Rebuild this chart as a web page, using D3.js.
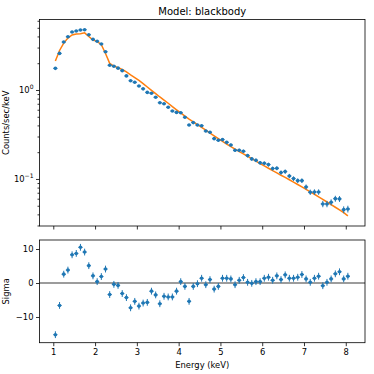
<!DOCTYPE html>
<html><head><meta charset="utf-8">
<script src="https://cdn.jsdelivr.net/npm/d3@7"></script>
<style>
html,body{margin:0;padding:0;background:#fff;}
svg text{font-family:"DejaVu Sans",sans-serif;fill:#000;}
</style></head>
<body><svg id="c" width="374" height="374"></svg>
<script>
const title = "Model: blackbody";
const xLabel = "Energy (keV)";
const yLabelTop = "Counts/sec/keV";
const yLabelRes = "Sigma";
const xTicks = [1,2,3,4,5,6,7,8];
const resTicks = [10,0,-10];
const logMajorTicks = [0.1, 1];
const logTickLabels = [["10","\u22121"],["10","0"]];
const halfWidth = 0.05;

const energy = [1.05,1.15,1.25,1.35,1.45,1.55,1.65,1.75,1.85,1.95,2.05,2.15,2.25,2.35,2.45,2.55,2.65,2.75,2.85,2.95,
3.05,3.15,3.25,3.35,3.45,3.55,3.65,3.75,3.85,3.95,4.05,4.15,4.25,4.35,4.45,4.55,4.65,4.75,4.85,4.95,
5.05,5.15,5.25,5.35,5.45,5.55,5.65,5.75,5.85,5.95,6.05,6.15,6.25,6.35,6.45,6.55,6.65,6.75,6.85,6.95,
7.05,7.15,7.25,7.35,7.45,7.55,7.65,7.75,7.85,7.95,8.05];

const counts = [1.75,2.58,3.46,3.97,4.48,4.60,4.72,4.76,4.18,3.71,3.53,3.29,2.69,1.90,1.85,1.76,1.65,1.44,1.27,1.22,
1.11,1.03,0.94,0.92,0.83,0.72,0.70,0.64,0.58,0.56,0.555,0.493,0.404,0.43,0.404,0.397,0.346,0.335,0.284,0.272,
0.277,0.258,0.241,0.21,0.21,0.205,0.183,0.168,0.162,0.152,0.150,0.145,0.131,0.132,0.118,0.121,0.108,0.101,0.0957,0.0957,
0.0813,0.071,0.0714,0.0714,0.0524,0.0524,0.0547,0.0601,0.0597,0.0452,0.046];

const countErr = [0.0246,0.0298,0.0345,0.0370,0.0393,0.0398,0.0403,0.0405,0.0380,0.0358,0.0349,0.0337,0.0305,0.0256,0.0253,0.0246,0.0239,0.0223,0.0209,0.0205,
0.0196,0.0188,0.0180,0.0178,0.0169,0.0158,0.0155,0.0149,0.0141,0.0139,0.0138,0.0130,0.0118,0.0122,0.0118,0.0117,0.0109,0.0107,0.0099,0.0097,
0.0098,0.0094,0.0091,0.0085,0.0085,0.0084,0.0079,0.0076,0.0075,0.0072,0.0072,0.0071,0.0067,0.0067,0.0064,0.0065,0.0061,0.0059,0.0057,0.0057,
0.0053,0.0049,0.0050,0.0050,0.0043,0.0043,0.0043,0.0046,0.0045,0.0040,0.0040];

const model = [2.12,2.78,3.37,3.83,4.15,4.25,4.30,4.39,3.99,3.63,3.52,3.23,2.57,1.99,1.86,1.78,1.70,1.60,1.48,1.38,
1.28,1.18,1.08,0.99,0.91,0.835,0.77,0.71,0.65,0.598,0.552,0.508,0.470,0.438,0.407,0.380,0.353,0.328,0.305,0.284,
0.265,0.247,0.231,0.216,0.203,0.191,0.180,0.169,0.159,0.149,0.140,0.132,0.124,0.117,0.110,0.104,0.0980,0.0922,0.0867,0.0814,
0.0764,0.0717,0.0673,0.0630,0.0589,0.0551,0.0515,0.0481,0.0449,0.0419,0.0385];

const sigma = [-15.2,-6.6,2.6,3.8,8.3,8.7,10.5,9.1,5.1,2.1,0.4,1.9,4.1,-3.4,-0.4,-0.7,-3.1,-4.3,-7.3,-5.4,
-6.8,-5.9,-5.7,-2.4,-3.5,-6.1,-3.9,-4.1,-4.1,-2.4,0.4,-1.0,-5.4,-1.0,-0.2,1.4,-0.5,1.0,-1.8,-1.0,
1.4,1.4,1.2,-0.5,0.8,1.6,0.2,-0.1,0.4,0.4,1.4,1.7,0.8,2.1,1.0,2.4,1.4,1.4,1.7,2.5,
1.2,0.2,1.4,2.0,-0.8,0.2,1.2,2.7,3.3,1.2,2.0];

const blue = "#1f77b4", orange = "#ff7f0e";
const svg = d3.select("#c");
const L = 39.5, R = 365;
const top1 = 19.5, bot1 = 226, top2 = 240, bot2 = 342.7;

const x = d3.scaleLinear().domain([0.67, 8.46]).range([L, R]);
const yT = d3.scaleLog().domain([0.0296, 6.2]).range([bot1, top1]);
const yR = d3.scaleLinear().domain([-17.56, 12.65]).range([bot2, top2]);

const pts = energy.map((e,i)=>({e, c:counts[i], ce:countErr[i], m:model[i], s:sigma[i]}));
const fs = 8.4;

// ---------- top panel ----------
const g1 = svg.append("g");
// x ticks (no labels)
const ax1 = g1.append("g").attr("transform",`translate(0,${bot1})`)
  .call(d3.axisBottom(x).tickValues(xTicks).tickFormat("").tickSizeOuter(0).tickSize(3.5));
ax1.select(".domain").remove();
// y log ticks
const minorVals = [];
[0.01,0.1,1].forEach(dec=>{for(let k=2;k<=9;k++){const v=dec*k; if(v>=0.0296 && v<=6.2) minorVals.push(v);}});
const ay1 = g1.append("g").attr("transform",`translate(${L},0)`)
  .call(d3.axisLeft(yT).tickValues(minorVals).tickFormat("").tickSizeOuter(0).tickSize(2));
ay1.select(".domain").remove();
const ay1b = g1.append("g").attr("transform",`translate(${L},0)`)
  .call(d3.axisLeft(yT).tickValues(logMajorTicks).tickFormat("").tickSizeOuter(0).tickSize(3.5));
ay1b.select(".domain").remove();
g1.selectAll(".tick line").attr("stroke","#000").attr("stroke-width",0.8);
logMajorTicks.forEach((v,i)=>{
  const t = g1.append("text").attr("x", L-6).attr("y", yT(v)+3.5).attr("text-anchor","end").attr("font-size",fs);
  t.append("tspan").text(logTickLabels[i][0]);
  t.append("tspan").attr("dy",-4).attr("font-size",fs*0.72).text(logTickLabels[i][1]);
});

// model line
g1.append("path").datum(pts)
  .attr("d", d3.line().x(d=>x(d.e)).y(d=>yT(d.m)))
  .attr("fill","none").attr("stroke",orange).attr("stroke-width",1.5);

// data error bars + points
const eb1 = g1.append("g").attr("stroke",blue).attr("stroke-width",1);
eb1.selectAll(".v").data(pts).join("line")
  .attr("x1",d=>x(d.e)).attr("x2",d=>x(d.e))
  .attr("y1",d=>yT(d.c-d.ce)).attr("y2",d=>yT(d.c+d.ce));
eb1.selectAll(".h").data(pts).join("line")
  .attr("x1",d=>x(d.e-halfWidth)).attr("x2",d=>x(d.e+halfWidth))
  .attr("y1",d=>yT(d.c)).attr("y2",d=>yT(d.c));
g1.append("g").selectAll("circle").data(pts).join("circle")
  .attr("cx",d=>x(d.e)).attr("cy",d=>yT(d.c)).attr("r",1.8).attr("fill",blue);

g1.append("rect").attr("x",L).attr("y",top1).attr("width",R-L).attr("height",bot1-top1)
  .attr("fill","none").attr("stroke","#000").attr("stroke-width",0.8);

svg.append("text").attr("x",(L+R)/2).attr("y",top1-5).attr("text-anchor","middle")
  .attr("font-size",10).text(title);
svg.append("text").attr("transform",`translate(9,${(top1+bot1)/2}) rotate(-90)`)
  .attr("text-anchor","middle").attr("font-size",fs).text(yLabelTop);

// ---------- residual panel ----------
const g2 = svg.append("g");
const ax2 = g2.append("g").attr("transform",`translate(0,${bot2})`)
  .call(d3.axisBottom(x).tickValues(xTicks).tickFormat(d3.format("d")).tickSizeOuter(0).tickSize(3.5));
ax2.select(".domain").remove();
ax2.selectAll("text").attr("font-size",fs).attr("font-family","DejaVu Sans").attr("dy","0.71em").attr("y",6);
const ay2 = g2.append("g").attr("transform",`translate(${L},0)`)
  .call(d3.axisLeft(yR).tickValues(resTicks).tickFormat(d=>d<0?"\u2212"+Math.abs(d):String(d)).tickSizeOuter(0).tickSize(3.5));
ay2.select(".domain").remove();
ay2.selectAll("text").attr("font-size",fs).attr("font-family","DejaVu Sans").attr("x",-6);
g2.selectAll(".tick line").attr("stroke","#000").attr("stroke-width",0.8);

g2.append("line").attr("x1",L).attr("x2",R).attr("y1",yR(0)).attr("y2",yR(0))
  .attr("stroke","#3a3a3a").attr("stroke-width",1.2);

const eb2 = g2.append("g").attr("stroke",blue).attr("stroke-width",1);
eb2.selectAll(".v").data(pts).join("line")
  .attr("x1",d=>x(d.e)).attr("x2",d=>x(d.e))
  .attr("y1",d=>yR(d.s-1)).attr("y2",d=>yR(d.s+1));
eb2.selectAll(".h").data(pts).join("line")
  .attr("x1",d=>x(d.e-halfWidth)).attr("x2",d=>x(d.e+halfWidth))
  .attr("y1",d=>yR(d.s)).attr("y2",d=>yR(d.s));
g2.append("g").selectAll("circle").data(pts).join("circle")
  .attr("cx",d=>x(d.e)).attr("cy",d=>yR(d.s)).attr("r",1.8).attr("fill",blue);

g2.append("rect").attr("x",L).attr("y",top2).attr("width",R-L).attr("height",bot2-top2)
  .attr("fill","none").attr("stroke","#000").attr("stroke-width",0.8);

svg.append("text").attr("x",(L+R)/2).attr("y",368).attr("text-anchor","middle")
  .attr("font-size",fs).text(xLabel);
svg.append("text").attr("transform",`translate(9,${(top2+bot2)/2}) rotate(-90)`)
  .attr("text-anchor","middle").attr("font-size",fs).text(yLabelRes);
</script></body></html>
